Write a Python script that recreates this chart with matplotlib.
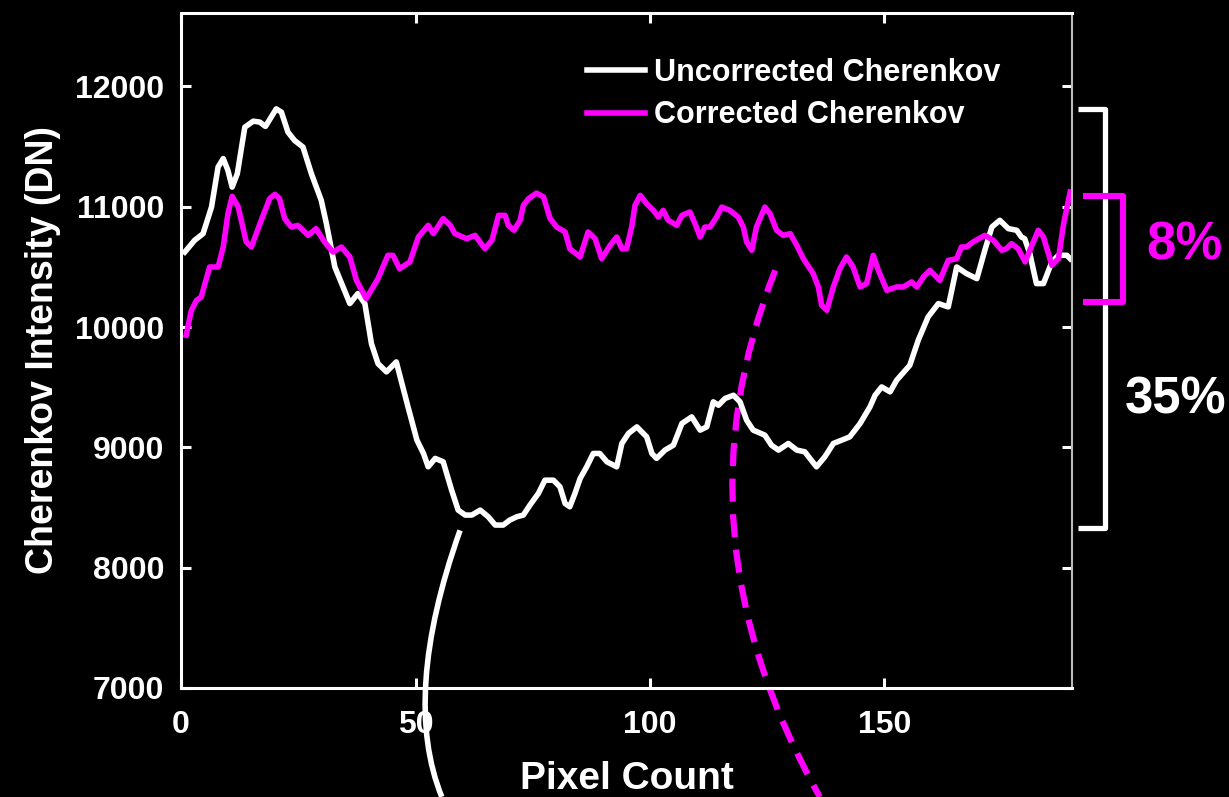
import matplotlib
matplotlib.use("Agg")
import matplotlib.pyplot as plt
from matplotlib.path import Path
from matplotlib.patches import PathPatch

plt.rcParams['font.family'] = ['Liberation Sans', 'DejaVu Sans']
plt.rcParams['font.weight'] = 'bold'

# ---- data ----
unc_x = [0.8, 2.9, 4.7, 6.5, 7.9, 9.0, 10.0, 10.9, 12.0, 13.6, 15.4, 16.8, 18.0, 20.3, 21.4,
         22.8, 24.2, 26.0, 27.8, 29.9, 31.0, 32.8, 36.0, 37.7, 39.2, 40.6, 42.0, 43.8, 45.9,
         48.4, 50.3, 51.7, 52.7, 54.2, 55.9, 57.7, 59.1, 60.6, 62.0, 63.8, 65.5, 67.0, 68.7,
         70.1, 71.6, 73.0, 74.4, 76.2, 77.6, 79.4, 80.8, 81.9, 82.9, 84.0, 85.1, 86.5, 87.9,
         89.3, 90.8, 92.9, 94.0, 95.4, 97.2, 99.3, 100.4, 101.4, 103.2, 105.0, 106.8, 108.9,
         110.7, 112.1, 113.5, 114.6, 116.0, 117.8, 119.2, 120.6, 122.0, 124.5, 125.9, 127.4,
         129.5, 131.3, 133.0, 135.5, 137.3, 139.1, 140.9, 142.6, 144.8, 146.9, 148.0, 149.4,
         151.2, 152.6, 155.4, 157.2, 159.3, 161.5, 163.6, 165.4, 167.5, 169.7, 171.4, 172.9,
         174.6, 176.4, 178.2, 179.2, 179.9, 181.0, 182.4, 183.9, 185.7, 187.1, 188.9, 189.6]
unc_y = [10623, 10721, 10776, 10997, 11330, 11400, 11302, 11163, 11274, 11661, 11711, 11703,
         11667, 11813, 11786, 11620, 11551, 11496, 11274, 11053, 10859, 10499, 10195, 10278,
         10195, 9862, 9696, 9627, 9710, 9336, 9060, 8949, 8838, 8908, 8880, 8644, 8478, 8437,
         8437, 8478, 8423, 8354, 8354, 8395, 8423, 8437, 8520, 8617, 8727, 8727, 8672, 8533,
         8506, 8617, 8741, 8838, 8949, 8949, 8880, 8838, 9032, 9115, 9170, 9087, 8949, 8908,
         8977, 9018, 9198, 9253, 9143, 9170, 9378, 9350, 9406, 9433, 9378, 9226, 9143, 9101,
         9018, 8977, 9032, 8977, 8963, 8838, 8922, 9032, 9060, 9087, 9198, 9336, 9433, 9502,
         9461, 9558, 9682, 9890, 10084, 10195, 10167, 10499, 10444, 10402, 10638, 10831,
         10887, 10818, 10804, 10748, 10734, 10610, 10361, 10361, 10541, 10596, 10596, 10568]

cor_x = [1.1, 2.2, 3.3, 4.3, 6.1, 7.9, 9.0, 10.0, 10.9, 12.2, 13.9, 15.0, 17.1, 18.9, 20.0,
         21.0, 22.1, 23.5, 24.9, 27.1, 28.8, 30.6, 32.4, 34.2, 36.0, 37.4, 39.5, 42.0, 44.1,
         45.2, 46.6, 48.8, 50.6, 52.7, 53.8, 55.9, 57.4, 58.4, 60.9, 62.7, 64.8, 66.3, 67.7,
         69.1, 69.8, 71.0, 72.3, 73.0, 74.1, 75.8, 77.3, 78.7, 80.1, 81.9, 82.9, 85.1, 86.8,
         88.3, 89.7, 91.5, 92.9, 94.0, 95.0, 96.1, 96.8, 97.9, 99.3, 100.7, 101.8, 102.8,
         103.9, 105.7, 106.8, 108.5, 109.6, 110.7, 111.7, 112.8, 114.2, 115.3, 117.0, 118.8,
         119.9, 120.6, 121.7, 122.7, 124.5, 125.6, 127.0, 128.4, 129.9, 131.3, 132.7, 134.8,
         135.9, 136.6, 137.7, 139.1, 140.5, 141.9, 143.3, 144.8, 146.2, 147.6, 148.7, 150.5,
         152.6, 154.0, 155.8, 156.9, 158.3, 159.7, 161.8, 163.6, 165.4, 166.4, 167.5, 168.9,
         171.4, 173.2, 175.0, 176.0, 177.1, 178.5, 180.0, 181.0, 182.8, 183.9, 185.7, 187.1,
         188.2, 189.6]
cor_y = [9932, 10139, 10222, 10250, 10499, 10499, 10665, 10942, 11086, 10997, 10707, 10665,
         10887, 11067, 11103, 11067, 10901, 10831, 10845, 10762, 10818, 10707, 10623, 10665,
         10582, 10388, 10236, 10402, 10596, 10596, 10485, 10541, 10748, 10845, 10776, 10901,
         10845, 10776, 10734, 10762, 10651, 10721, 10928, 10928, 10845, 10804, 10887, 11011,
         11067, 11113, 11081, 10901, 10831, 10790, 10651, 10582, 10790, 10734, 10568, 10679,
         10748, 10651, 10651, 10831, 11011, 11094, 11025, 10970, 10914, 10970, 10887, 10845,
         10928, 10956, 10859, 10748, 10831, 10831, 10914, 10997, 10970, 10914, 10831, 10707,
         10638, 10831, 10997, 10942, 10804, 10762, 10776, 10679, 10568, 10444, 10333, 10181,
         10139, 10333, 10485, 10582, 10499, 10333, 10361, 10596, 10471, 10305, 10333, 10333,
         10375, 10333, 10416, 10471, 10388, 10554, 10568, 10665, 10665, 10707, 10762, 10721,
         10638, 10651, 10693, 10651, 10541, 10638, 10804, 10748, 10513, 10568, 10859, 11122]

x_ticks = [0, 50, 100, 150]
y_ticks = [7000, 8000, 9000, 10000, 11000, 12000]
labels = ['Uncorrected Cherenkov', 'Corrected Cherenkov']
pct_labels = ['8%', '35%']

WHITE = 'white'
MAG = '#ff00ff'

fig = plt.figure(figsize=(12.29, 7.97), dpi=100, facecolor='black')
ax = fig.add_axes([0.1473, 0.1368, 0.7250, 0.8469])
ax.set_facecolor('black')

ax.plot(unc_x, unc_y, color=WHITE, lw=4.0, label=labels[0], solid_joinstyle='round')
ax.plot(cor_x, cor_y, color=MAG, lw=4.0, label=labels[1], solid_joinstyle='round')

ax.set_xlim(0, 190)
ax.set_ylim(7000, 12610)
ax.set_xticks(x_ticks)
ax.set_yticks(y_ticks)
ax.tick_params(direction='in', length=7, width=2.2, colors=WHITE, top=True, right=True,
               labelsize=23)
ax.tick_params(axis='x', pad=16)
ax.tick_params(axis='y', pad=12)
for lab in ax.get_xticklabels() + ax.get_yticklabels():
    lab.set_fontweight('bold')
for s in ['left', 'bottom', 'top']:
    ax.spines[s].set_color(WHITE)
    ax.spines[s].set_linewidth(2.2)
ax.spines['right'].set_color('#bbbbbb')
ax.spines['right'].set_linewidth(1.5)

ax.set_xlabel('Pixel Count', color=WHITE, fontsize=28, fontweight='bold', labelpad=15)
ax.set_ylabel('Cherenkov Intensity (DN)', color=WHITE, fontsize=27, fontweight='bold',
              labelpad=10)

leg = ax.legend(loc='upper left', bbox_to_anchor=(0.4557, 0.934), frameon=False,
                fontsize=22, handlelength=1.9, handletextpad=0.3, labelspacing=0.42,
                borderpad=0, borderaxespad=0)
for t in leg.get_texts():
    t.set_color(WHITE)
    t.set_fontweight('bold')

# ---- brackets showing range of each curve ----
def bracket(x0, x1, y0, y1, color, lw):
    ax.plot([x0, x1, x1, x0], [y1, y1, y0, y0], color=color, lw=lw, clip_on=False,
            solid_joinstyle='round', solid_capstyle='butt')

bracket(191.3, 197.0, max(unc_y) - 0, min(unc_y) - 25, WHITE, 3.8)
bracket(192.4, 200.9, 10206, 11086, MAG, 4.4)

ax.text(214.0, 10680, pct_labels[0], color=MAG, fontsize=38, fontweight='bold',
        ha='center', va='center', clip_on=False)
ax.text(212.0, 9390, pct_labels[1], color=WHITE, fontsize=36.5, fontweight='bold',
        ha='center', va='center', clip_on=False)

# ---- decorative curved lines leading out of the plot ----
white_arc = Path([(59.5, 8310), (46.9, 6930), (55.6, 6095)],
                 [Path.MOVETO, Path.CURVE3, Path.CURVE3])
ax.add_patch(PathPatch(white_arc, fill=False, edgecolor=WHITE, lw=4.0, clip_on=False,
                       capstyle='butt'))
mag_arc = Path([(126.7, 10471), (104.5, 8291), (136.2, 6095)],
               [Path.MOVETO, Path.CURVE3, Path.CURVE3])
ax.add_patch(PathPatch(mag_arc, fill=False, edgecolor=MAG, lw=4.5, clip_on=False,
                       linestyle=(0, (3.7, 2.0)), capstyle='butt'))

fig.savefig('out.png', dpi=100, facecolor='black')
